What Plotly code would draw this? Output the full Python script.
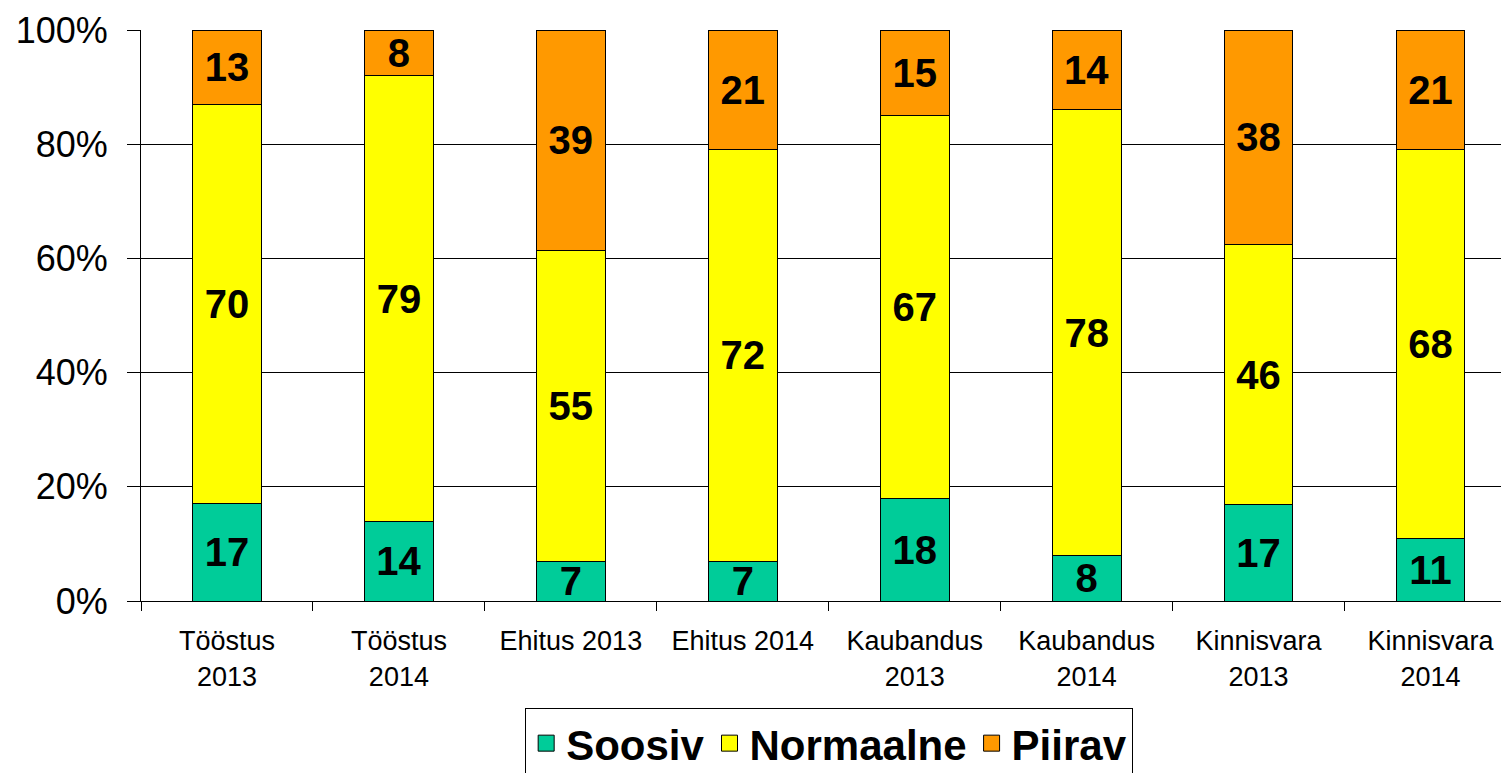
import plotly.graph_objects as go

categories = ["Tööstus<br>2013", "Tööstus<br>2014", "Ehitus 2013", "Ehitus 2014",
              "Kaubandus<br>2013", "Kaubandus<br>2014", "Kinnisvara<br>2013", "Kinnisvara<br>2014"]
soosiv = [17, 14, 7, 7, 18, 8, 17, 11]
normaalne = [70, 79, 55, 72, 67, 78, 46, 68]
piirav = [13, 8, 39, 21, 15, 14, 38, 21]

series = [("Soosiv", soosiv, "#00CC99"),
          ("Normaalne", normaalne, "#FFFF00"),
          ("Piirav", piirav, "#FF9900")]

FONT = "Liberation Sans, Arial, sans-serif"

fig = go.Figure()
for name, vals, color in series:
    fig.add_trace(go.Bar(
        x=categories, y=vals, name=name, text=vals, texttemplate="%{text}",
        textposition="inside", insidetextanchor="middle", textangle=0,
        textfont=dict(size=40, color="black", family=FONT, weight="bold"),
        marker=dict(color=color, line=dict(color="black", width=1)),
        width=0.4, showlegend=False,
    ))
    # legend swatch
    fig.add_trace(go.Scatter(
        x=[None], y=[None], mode="markers", name=name,
        marker=dict(symbol="square", size=16, color=color, line=dict(color="black", width=1)),
    ))

fig.update_layout(
    barmode="stack", barnorm="percent",
    width=1501, height=773,
    margin=dict(l=141, r=0, t=30, b=172, autoexpand=False),
    paper_bgcolor="white", plot_bgcolor="white",
    font=dict(family=FONT, color="black"),
    uniformtext=dict(minsize=40, mode="show"),
    legend=dict(orientation="h", x=0.506, xanchor="center", y=-0.188, yanchor="top",
                traceorder="normal",
                bordercolor="black", borderwidth=1,
                font=dict(size=42, family=FONT, weight="bold")),
)
fig.update_yaxes(range=[0, 100], dtick=20, ticksuffix="%", showgrid=True,
                 gridcolor="black", gridwidth=1, showline=True, linecolor="black",
                 ticks="outside", ticklen=13, tickcolor="black", automargin=False,
                 ticklabelstandoff=12,
                 tickfont=dict(size=36, family=FONT), zeroline=False)
fig.update_xaxes(range=[-0.5, 7.41], showline=True, linecolor="black",
                 ticks="outside", tickson="boundaries", ticklen=9, tickcolor="black",
                 automargin=False, ticklabelstandoff=16,
                 tickfont=dict(size=27, family=FONT))

fig.write_html("out.html", config={"displayModeBar": False},
               post_script="document.body.style.margin='0';document.body.style.overflow='hidden';")
